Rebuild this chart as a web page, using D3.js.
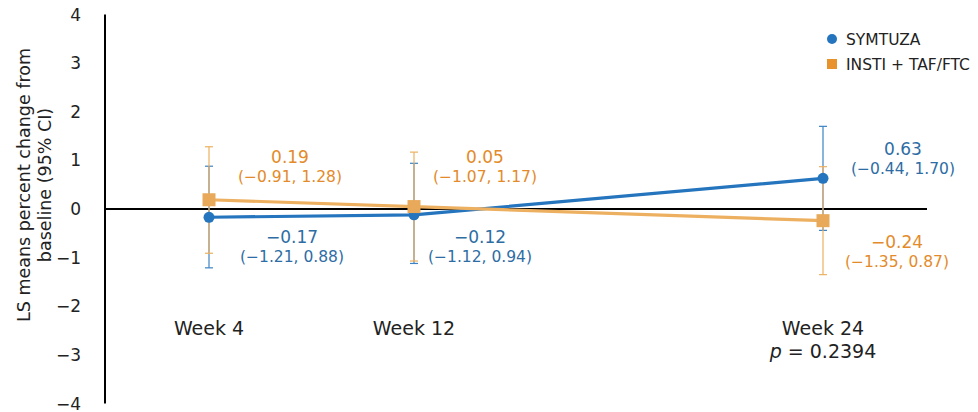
<!DOCTYPE html>
<html><head><meta charset="utf-8">
<script src="https://cdn.jsdelivr.net/npm/d3@7"></script>
<style>body{margin:0;background:#fff}svg{display:block}text{font-family:"DejaVu Sans",Verdana,sans-serif}</style>
</head><body>
<svg id="c" width="978" height="412"></svg>
<script>
const weeks = [4, 12, 24];
const weekLabels = ["Week 4", "Week 12", "Week 24"];
const symtuzaMean = [-0.17, -0.12, 0.63];
const symtuzaLow = [-1.21, -1.12, -0.44];
const symtuzaHigh = [0.88, 0.94, 1.70];
const instiMean = [0.19, 0.05, -0.24];
const instiLow = [-0.91, -1.07, -1.35];
const instiHigh = [1.28, 1.17, 0.87];
const yTicks = [4, 3, 2, 1, 0, -1, -2, -3, -4];
const seriesNames = ["SYMTUZA", "INSTI + TAF/FTC"];
const pLabel = "0.2394";

const svg = d3.select("#c");
const y = d3.scaleLinear().domain([-4, 4]).range([403.5, 14.5]);
const x = d3.scaleLinear().domain([4, 12, 24]).range([209, 414, 823]);
const fmt = v => (v < 0 ? "\u2212" : "") + Math.abs(v).toFixed(2);

// y axis
svg.append("line").attr("x1", 105).attr("x2", 105).attr("y1", y(4)).attr("y2", y(-4))
  .attr("stroke", "#000").attr("stroke-width", 2);
svg.selectAll(".yt").data(yTicks).join("text")
  .attr("x", 81).attr("y", d => y(d)).attr("dy", "0.36em").attr("text-anchor", "end")
  .attr("font-size", 17).attr("fill", "#222")
  .text(d => d < 0 ? "\u2212" + Math.abs(d) : d);
// zero line
svg.append("line").attr("x1", 105).attr("x2", 927).attr("y1", y(0)).attr("y2", y(0))
  .attr("stroke", "#000").attr("stroke-width", 2);

// y title
const yt = svg.append("text").attr("transform", "translate(30,185) rotate(-90)")
  .attr("text-anchor", "middle").attr("font-size", 17.5).attr("fill", "#222");
yt.append("tspan").attr("x", 0).attr("dy", 0).text("LS means percent change from");
yt.append("tspan").attr("x", 0).attr("dy", 21).text("baseline (95% CI)");

const blue = "#2474BE", orange = "#EDB060", orangeMk = "#E9A95A", orangeTxt = "#E38B2A", blueTxt = "#2E6DA4";

function errBars(mean, low, high, color) {
  const g = svg.append("g").attr("stroke", color).attr("stroke-width", 1.2);
  weeks.forEach((w, i) => {
    const cx = x(w);
    g.append("line").attr("x1", cx).attr("x2", cx).attr("y1", y(high[i])).attr("y2", y(low[i]));
    [high[i], low[i]].forEach(v => g.append("line").attr("x1", cx - 4).attr("x2", cx + 4).attr("y1", y(v)).attr("y2", y(v)));
  });
}
errBars(symtuzaMean, symtuzaLow, symtuzaHigh, "#3C82C4");
errBars(instiMean, instiLow, instiHigh, orange);

const line = d3.line().x((d, i) => x(weeks[i])).y(d => y(d));
svg.append("path").datum(symtuzaMean).attr("d", line).attr("fill", "none").attr("stroke", blue).attr("stroke-width", 3.2);
svg.append("path").datum(instiMean).attr("d", line).attr("fill", "none").attr("stroke", orange).attr("stroke-width", 3.2);

svg.selectAll(".mb").data(symtuzaMean).join("circle")
  .attr("cx", (d, i) => x(weeks[i])).attr("cy", d => y(d)).attr("r", 5.5).attr("fill", blue);
svg.selectAll(".mo").data(instiMean).join("rect")
  .attr("x", (d, i) => x(weeks[i]) - 6.5).attr("y", d => y(d) - 6.5).attr("width", 13).attr("height", 13).attr("fill", orangeMk);

// value labels
const labelOff = [
  {s: 0, dx: [83, 66, 80], dy: [34, 34, -54]},
  {s: 1, dx: [81, 71, 74], dy: [-46, -46, 39]}
];
const allMean = [symtuzaMean, instiMean], allLow = [symtuzaLow, instiLow], allHigh = [symtuzaHigh, instiHigh];
const txtColors = [blueTxt, orangeTxt];
labelOff.forEach(o => {
  weeks.forEach((w, i) => {
    const cx = x(w) + o.dx[i];
    const by = y(0) + o.dy[i];
    svg.append("text").attr("x", cx).attr("y", by).attr("text-anchor", "middle")
      .attr("font-size", 17).attr("fill", txtColors[o.s]).text(fmt(allMean[o.s][i]));
    svg.append("text").attr("x", cx).attr("y", by + 19).attr("text-anchor", "middle")
      .attr("font-size", 15.5).attr("fill", txtColors[o.s])
      .text("(" + fmt(allLow[o.s][i]) + ", " + fmt(allHigh[o.s][i]) + ")");
  });
});

// week labels
svg.selectAll(".wl").data(weekLabels).join("text")
  .attr("x", (d, i) => x(weeks[i])).attr("y", 335).attr("text-anchor", "middle")
  .attr("font-size", 19).attr("fill", "#222").text(d => d);
const pt = svg.append("text").attr("x", x(weeks[2])).attr("y", 358).attr("text-anchor", "middle")
  .attr("font-size", 19).attr("fill", "#222");
pt.append("tspan").attr("font-style", "italic").text("p");
pt.append("tspan").text(" = " + pLabel);

// legend
const lg = svg.append("g").attr("transform", "translate(832,39)");
lg.append("circle").attr("cx", 0).attr("cy", 0).attr("r", 5).attr("fill", blue);
lg.append("rect").attr("x", -5).attr("y", 20).attr("width", 10).attr("height", 10).attr("fill", "#E8922C");
lg.selectAll(".lt").data(seriesNames).join("text")
  .attr("x", 14).attr("y", (d, i) => i * 25).attr("dy", "0.36em")
  .attr("font-size", 15.5).attr("fill", "#222").text(d => d);
</script>
</body></html>
